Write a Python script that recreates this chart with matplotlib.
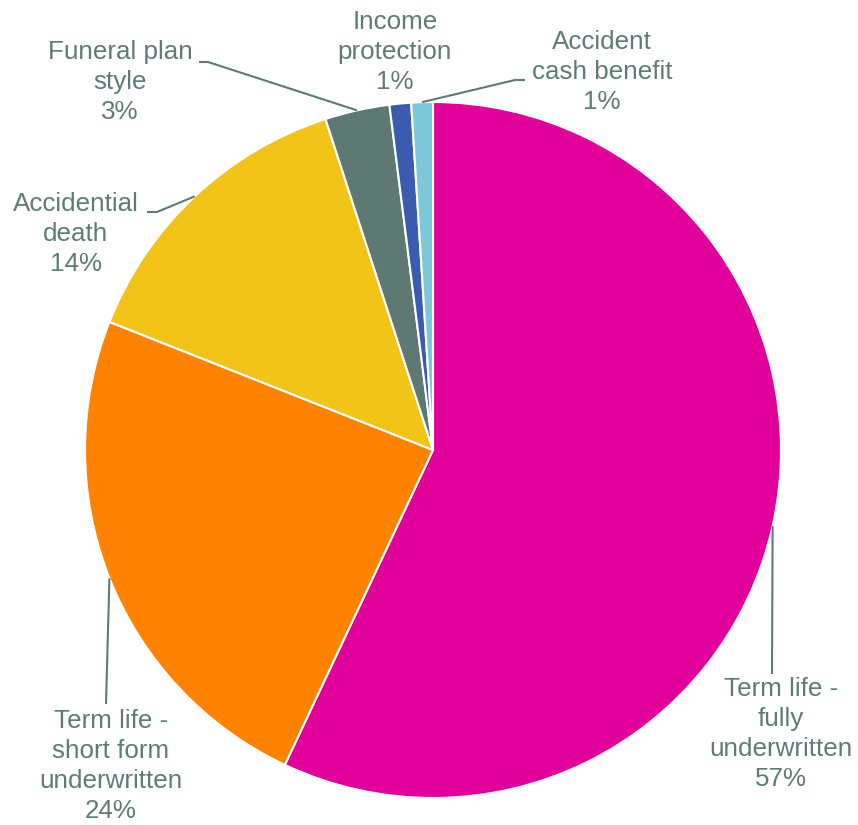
import numpy as np
import matplotlib
matplotlib.use("Agg")
import matplotlib.pyplot as plt

products = ["Term life -\nfully\nunderwritten", "Term life -\nshort form\nunderwritten",
            "Accidential\ndeath", "Funeral plan\nstyle", "Income\nprotection",
            "Accident\ncash benefit"]
shares = [57, 24, 14, 3, 1, 1]
colors = ["#E2009A", "#FF8300", "#F2C418", "#5E7873", "#3A5BAE", "#7DC8D8"]
text_color = "#5E7B76"

W, H = 858, 825
fig = plt.figure(figsize=(W / 100, H / 100), dpi=100)
ax = fig.add_axes([0, 0, 1, 1])

cx, cy, R = 433, H - 450, 348
wedges, _ = ax.pie(shares, colors=colors, startangle=90, counterclock=False,
                   radius=R, center=(cx, cy),
                   wedgeprops=dict(edgecolor="white", linewidth=1.5))
ax.set_xlim(0, W)
ax.set_ylim(0, H)
ax.set_aspect("equal")
ax.axis("off")

# label anchor (x centre, top of text) and leader elbows, in pixels from top-left
label_pos = [(781, 677), (111, 709), (76, 192), (120, 40), (395, 10), (602, 30)]
elbows = [
    [(772, 674)],
    [(106, 704)],
    [(157, 212), (147, 212)],
    [(208, 62), (199, 62)],
    None,
    [(515, 80), (525, 80)],
]

for w, name, s, (lx, ly), elb in zip(wedges, products, shares, label_pos, elbows):
    ax.text(lx, H - ly, f"{name}\n{s}%", ha="center", va="top",
            fontsize=18.7, family="Liberation Sans", color=text_color,
            linespacing=1.31)
    if elb is None:
        continue
    mid = np.deg2rad((w.theta1 + w.theta2) / 2)
    pts = [(cx + R * np.cos(mid), cy + R * np.sin(mid))]
    pts += [(x, H - y) for x, y in elb]
    xs, ys = zip(*pts)
    ax.plot(xs, ys, color=text_color, linewidth=1.5, solid_capstyle="butt")

fig.savefig("out.png", dpi=100)
